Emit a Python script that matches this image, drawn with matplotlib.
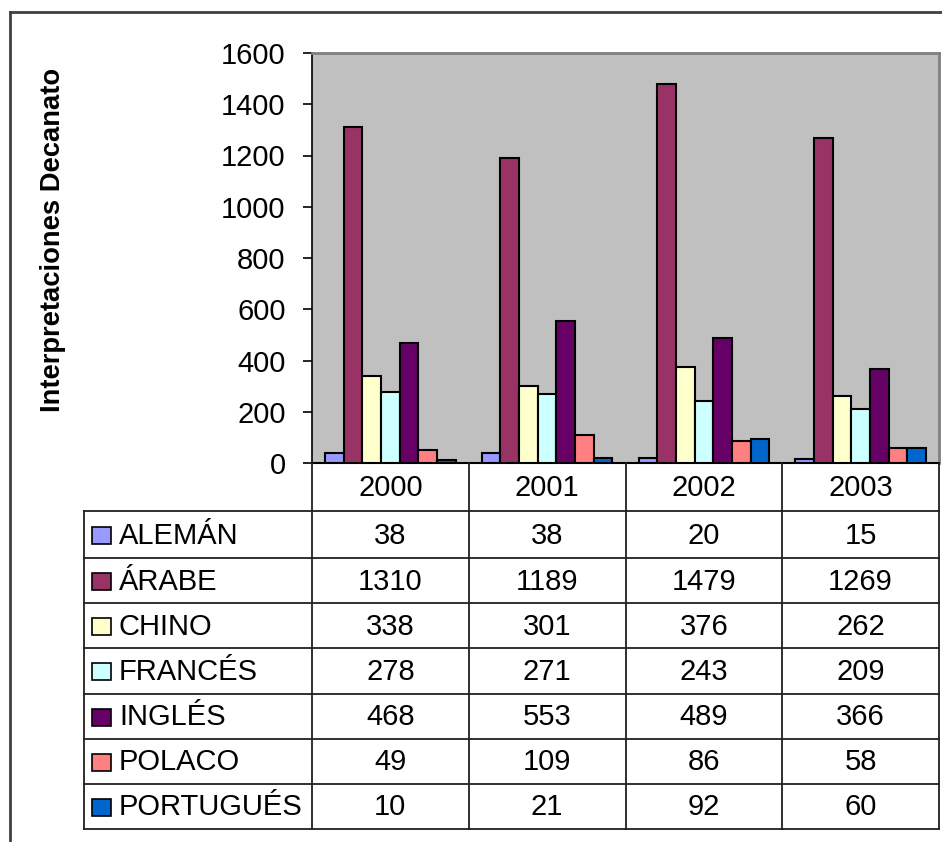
import matplotlib.pyplot as plt
import matplotlib.patches as patches
import numpy as np

plt.rcParams['font.family'] = ['Liberation Sans', 'DejaVu Sans']

# datos
years = ['2000', '2001', '2002', '2003']
languages = ['ALEMÁN', 'ÁRABE', 'CHINO', 'FRANCÉS', 'INGLÉS', 'POLACO', 'PORTUGUÉS']
aleman = [38, 38, 20, 15]
arabe = [1310, 1189, 1479, 1269]
chino = [338, 301, 376, 262]
frances = [278, 271, 243, 209]
ingles = [468, 553, 489, 366]
polaco = [49, 109, 86, 58]
portugues = [10, 21, 92, 60]
series = [aleman, arabe, chino, frances, ingles, polaco, portugues]
colors = ['#9999FF', '#993366', '#FFFFCC', '#CCFFFF', '#660066', '#FF8080', '#0066CC']
y_ticks = [0, 200, 400, 600, 800, 1000, 1200, 1400, 1600]

W, H = 942, 842
fig = plt.figure(figsize=(W / 100, H / 100), dpi=100)
fs = 21

# posiciones en pixeles
plot_x0, plot_x1 = 312, 939
plot_y0, plot_y1 = 53, 463
tab_x0 = 84
head_y1 = 511
tab_y1 = 829


def box(x0, y0, x1, y1):
    return [x0 / W, 1 - y1 / H, (x1 - x0) / W, (y1 - y0) / H]


# grafico de barras
ax = fig.add_axes(box(plot_x0, plot_y0, plot_x1, plot_y1))
ax.set_facecolor('#C0C0C0')
n = len(series)
w = 0.119
x = np.arange(len(years)) + 0.5
for i, vals in enumerate(series):
    ax.bar(x + (i - (n - 1) / 2) * w, vals, width=w, color=colors[i],
           edgecolor='black', linewidth=1.5, zorder=3)
ax.set_xlim(0, len(years))
ax.set_ylim(0, 1600)
ax.set_yticks(y_ticks)
ax.set_yticklabels([str(t) for t in y_ticks], fontsize=fs)
ax.set_xticks([])
ax.tick_params(axis='y', length=6.5, width=1.2, direction='out', pad=12.5)
for s in ['top', 'right']:
    ax.spines[s].set_color('#808080')
    ax.spines[s].set_linewidth(2)
ax.spines['left'].set_color('black')
ax.spines['bottom'].set_color('black')
ax.spines['left'].set_linewidth(1.2)
ax.spines['bottom'].set_linewidth(1.5)

fig.text(53 / W, 1 - 240 / H, 'Interpretaciones Decanato', rotation=90,
         fontsize=19.7, fontweight='bold', ha='center', va='center')

# tabla de datos y marco exterior
ov = fig.add_axes([0, 0, 1, 1])
ov.set_xlim(0, W)
ov.set_ylim(H, 0)
ov.axis('off')

lc = '#202020'
ov.plot([10, W], [12, 12], color='#404040', lw=2)
ov.plot([10, 10], [12, H], color='#404040', lw=2)

col_edges = np.linspace(plot_x0, plot_x1, len(years) + 1)
row_edges = np.concatenate([[head_y1], np.linspace(558, tab_y1, len(languages))])

for cx in col_edges:
    ov.plot([cx, cx], [plot_y1, tab_y1], color=lc, lw=1.3)
ov.plot([tab_x0, tab_x0], [head_y1, tab_y1], color=lc, lw=1.3)
for ry in row_edges:
    ov.plot([tab_x0, plot_x1], [ry, ry], color=lc, lw=1.3)

for j, yr in enumerate(years):
    cx = (col_edges[j] + col_edges[j + 1]) / 2
    ov.text(cx, (plot_y1 + head_y1) / 2 + 1, yr, fontsize=fs,
            ha='center', va='center')

for i, lang in enumerate(languages):
    cy = (row_edges[i] + row_edges[i + 1]) / 2 + 1
    ov.add_patch(patches.Rectangle((92, cy - 8.5), 19, 17, facecolor=colors[i],
                                   edgecolor='black', lw=1.2))
    ov.text(119, cy, lang, fontsize=fs, ha='left', va='center')
    for j in range(len(years)):
        cx = (col_edges[j] + col_edges[j + 1]) / 2
        ov.text(cx, cy, str(series[i][j]), fontsize=fs,
                ha='center', va='center')

fig.savefig('out.png', dpi=100)
